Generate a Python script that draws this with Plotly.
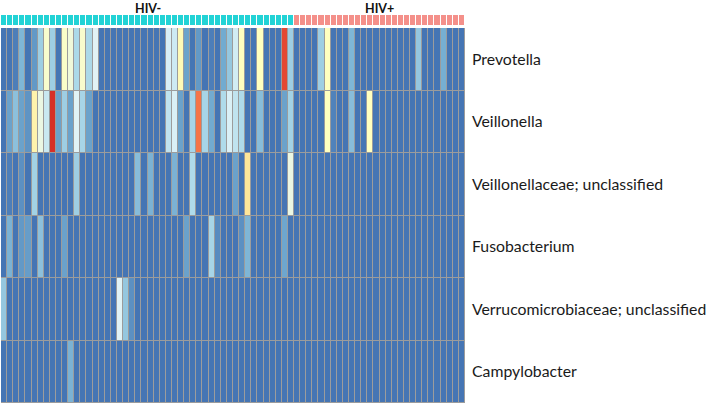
import plotly.graph_objects as go

taxa = ["Prevotella", "Veillonella", "Veillonellaceae; unclassified",
        "Fusobacterium", "Verrucomicrobiaceae; unclassified", "Campylobacter"]
groups = ["HIV-"] * 48 + ["HIV+"] * 28
samples = [f"S{i+1}" for i in range(76)]

def row(pairs):
    r = [0.0] * 76
    for k, v in pairs.items():
        r[k] = v
    return r

prevotella = row({2: 0.02, 3: 0.15, 5: 0.08, 6: 0.22, 7: 0.47, 8: 0.22, 10: 0.48, 11: 0.44,
                  12: 0.25, 13: 0.47, 14: 0.25, 15: 0.38, 27: 0.36, 28: 0.33, 29: 0.52,
                  30: 0.1, 32: 0.08, 34: 0.02, 36: 0.12, 37: 0.2, 38: 0.34, 39: 0.5,
                  42: 0.5, 46: 0.95, 47: 0.22, 52: 0.22, 53: 0.5, 57: 0.15, 68: 0.2, 72: 0.13})
veillonella = row({1: 0.1, 2: 0.18, 3: 0.1, 4: 0.07, 5: 0.55, 6: 0.42, 7: 0.32, 8: 1.0,
                   9: 0.1, 10: 0.22, 11: 0.1, 12: 0.38, 13: 0.24, 14: 0.1, 27: 0.3, 28: 0.36,
                   29: 0.1, 31: 0.24, 32: 0.86, 33: 0.24, 34: 0.12, 36: 0.26, 37: 0.36,
                   38: 0.3, 39: 0.26, 42: 0.17, 46: 0.1, 47: 0.23, 53: 0.5, 54: 0.03,
                   57: 0.17, 60: 0.5})
veillonellaceae = row({1: 0.02, 3: 0.06, 5: 0.23, 12: 0.22, 22: 0.17, 24: 0.14, 28: 0.14,
                       31: 0.26, 38: 0.1, 40: 0.6, 47: 0.42})
fusobacterium = row({1: 0.14, 3: 0.08, 4: 0.09, 6: 0.18, 10: 0.1, 30: 0.1, 34: 0.24,
                     35: 0.05, 39: 0.06, 40: 0.15, 46: 0.11})
verrucomicrobiaceae = row({0: 0.2, 19: 0.38, 20: 0.2, 21: 0.06})
campylobacter = row({11: 0.14})

z = [prevotella, veillonella, veillonellaceae, fusobacterium, verrucomicrobiaceae, campylobacter]

colorscale = [
    [0.0, "#4575b4"], [0.125, "#74add1"], [0.25, "#abd9e9"], [0.375, "#e0f3f8"],
    [0.5, "#ffffbf"], [0.625, "#fee090"], [0.75, "#fdae61"], [0.875, "#f46d43"],
    [1.0, "#d73027"],
]

group_code = [[0 if g == "HIV-" else 1 for g in groups]]

fig = go.Figure()
fig.add_trace(go.Heatmap(
    z=z, x=samples, y=taxa, colorscale=colorscale, zmin=0, zmax=1,
    xgap=1, ygap=1, showscale=False, xaxis="x", yaxis="y",
))
fig.add_trace(go.Heatmap(
    z=group_code, x=samples, y=["Group"],
    colorscale=[[0, "#22d3d6"], [0.5, "#22d3d6"], [0.5, "#f4908a"], [1, "#f4908a"]],
    zmin=0, zmax=1, xgap=1, showscale=False, xaxis="x", yaxis="y2",
))

H0, H1 = 403, 15
span = H0 - H1
dom_main = [0, (H0 - 28) / span]
dom_bar = [(H0 - 25) / span, 1]

fig.update_layout(
    width=709, height=405,
    margin=dict(l=1, r=244, t=H1, b=405 - H0, autoexpand=False),
    paper_bgcolor="white", plot_bgcolor="white",
    xaxis=dict(domain=[0, 1], showticklabels=False, ticks="", showgrid=False,
               zeroline=False, automargin=False),
    yaxis=dict(domain=dom_main, autorange="reversed", side="right", ticks="",
               showgrid=False, zeroline=False, ticklabelstandoff=6, automargin=False,
               tickfont=dict(family="Lato, Open Sans, sans-serif", size=15.8, color="#1a1a1a")),
    yaxis2=dict(domain=dom_bar, showticklabels=False, ticks="", showgrid=False,
                zeroline=False, automargin=False),
    shapes=[dict(type="rect", xref="paper", yref="paper", x0=0, x1=1,
                 y0=dom_main[0], y1=dom_main[1], fillcolor="#9c9c9c",
                 line=dict(width=0), layer="below")],
    font=dict(family="Lato, Open Sans, sans-serif"),
)

for name in ["HIV-", "HIV+"]:
    idx = [i for i, gg in enumerate(groups) if gg == name]
    center = (idx[0] + idx[-1]) / 2
    fig.add_annotation(x=center, y=1, xref="x", yref="paper", yanchor="middle",
                       yshift=7, text=f"<b>{name}</b>", showarrow=False,
                       font=dict(size=12.5, color="#111111"))

fig.write_html("out.html", config={"displayModeBar": False},
               post_script="document.body.style.margin='0';document.body.style.overflow='hidden';")
